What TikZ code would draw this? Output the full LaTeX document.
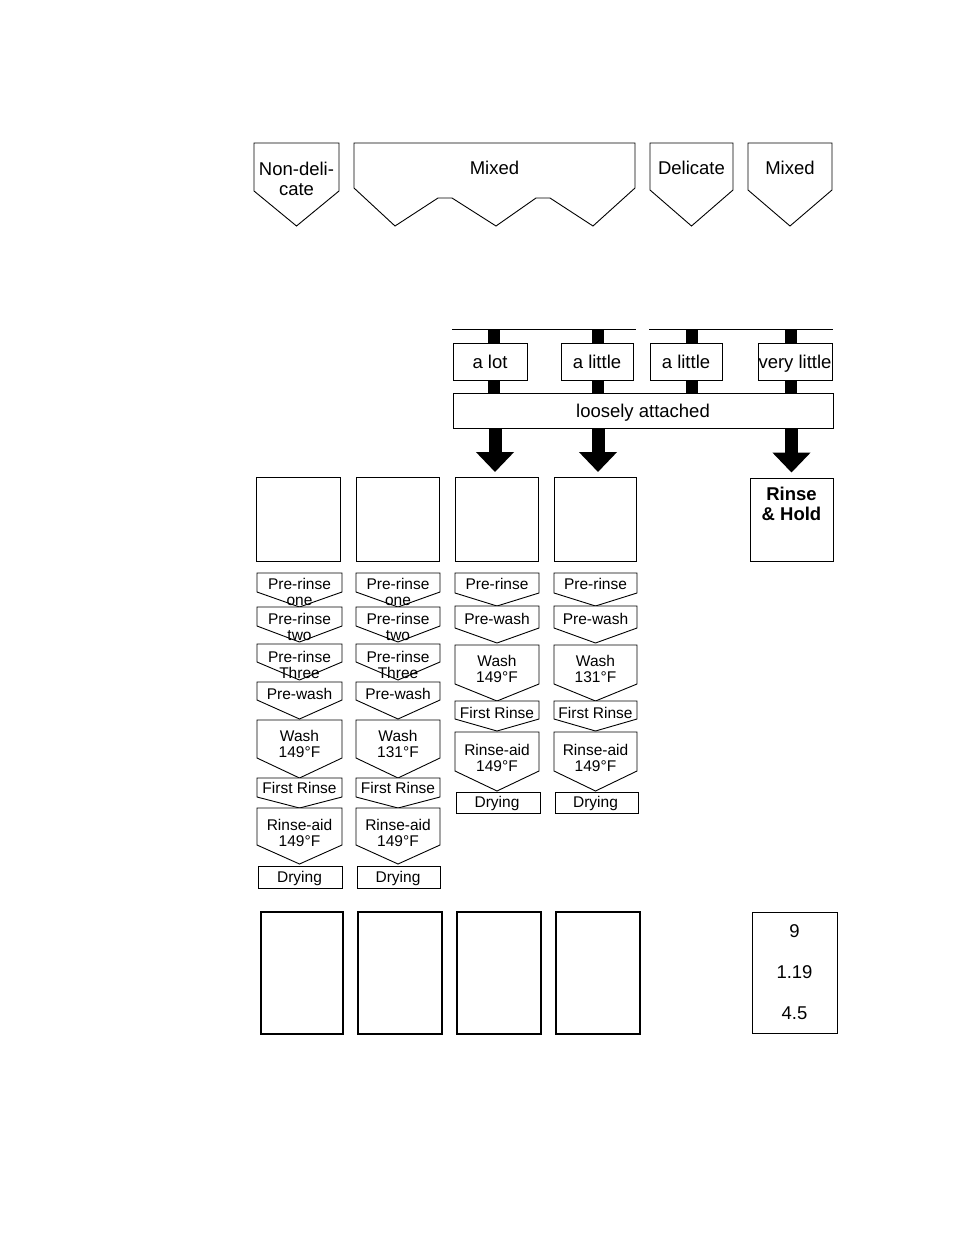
\documentclass[tikz,border=0pt]{standalone}
\usepackage{fontspec}
\setmainfont{Liberation Sans}
\usetikzlibrary{arrows.meta,fit}
\newcommand\pent[6]{% name, x1, x2, ytop, yside, ypoint
  \draw[ln, fill=white] (#2,#4) -- (#3,#4) -- (#3,#5) -- ({(#2+#3)/2},#6) -- (#2,#5) -- cycle;
  \coordinate (#1) at ({(#2+#3)/2},#4);}
\newcommand\colA[4]{% prefix, x1, x2, wash temp
  \pgfmathsetmacro\cx{(#2+#3)/2}
  \pent{#1a}{#2}{#3}{573}{592}{607}
  \pent{#1b}{#2}{#3}{607}{626}{642}
  \pent{#1c}{#2}{#3}{644}{662}{680}
  \pent{#1d}{#2}{#3}{682}{700}{719}
  \pent{#1e}{#2}{#3}{720}{758}{778}
  \pent{#1f}{#2}{#3}{778}{797}{808}
  \pent{#1g}{#2}{#3}{808}{845}{864}
  \node[ln, fit={(#2+1,866) (#3,888)}, inner sep=0pt] (#1h) {};
  \node[sm] (#1ta) at (\cx,584) {Pre-rinse};
  \node[sm] at (\cx,600) {one};
  \node[sm] (#1tb) at (\cx,619) {Pre-rinse};
  \node[sm] at (\cx,635) {two};
  \node[sm] (#1tc) at (\cx,657) {Pre-rinse};
  \node[sm] at (\cx,673) {Three};
  \node[sm] (#1td) at (\cx,694) {Pre-wash};
  \node[sm] (#1te) at (\cx,736) {Wash};
  \node[sm] at (\cx,752) {#4};
  \node[sm] (#1tf) at (\cx,788) {First Rinse};
  \node[sm] (#1tg) at (\cx,825) {Rinse-aid};
  \node[sm] at (\cx,841) {149°F};
  \node[sm] (#1th) at (\cx,877) {Drying};}
\newcommand\colB[4]{% prefix, x1, x2, wash temp
  \pgfmathsetmacro\cx{(#2+#3)/2}
  \pent{#1a}{#2}{#3}{573}{593}{606}
  \pent{#1b}{#2}{#3}{606}{628}{643}
  \pent{#1c}{#2}{#3}{645}{684}{701}
  \pent{#1d}{#2}{#3}{701}{719}{731}
  \pent{#1e}{#2}{#3}{732}{771}{791}
  \node[ln, fit={(#2+1,792) (#3+1,813)}, inner sep=0pt] (#1f) {};
  \node[sm] (#1ta) at (\cx,584) {Pre-rinse};
  \node[sm] (#1tb) at (\cx,619) {Pre-wash};
  \node[sm] (#1tc) at (\cx,661) {Wash};
  \node[sm] at (\cx,677) {#4};
  \node[sm] (#1td) at (\cx,713) {First Rinse};
  \node[sm] (#1te) at (\cx,750) {Rinse-aid};
  \node[sm] at (\cx,766) {149°F};
  \node[sm] (#1tf) at (\cx,802) {Drying};}
\begin{document}
\begin{tikzpicture}[x=1pt,y=-1pt,
  ln/.style={draw=black, line width=0.9pt},
  thick box/.style={draw=black, line width=1.4pt, inner sep=0pt},
  big/.style={font=\fontsize{18.5}{20}\selectfont, inner sep=0pt, text height=13.2pt, text depth=0pt},
  bigb/.style={font=\bfseries\fontsize{18.5}{20}\selectfont, inner sep=0pt, text height=13.2pt, text depth=0pt},
  sm/.style={font=\fontsize{15.5}{16}\selectfont, inner sep=0pt, text height=11pt, text depth=0pt},
  bar/.style={line width=12pt, draw=black},
  bigarrow/.style={line width=13pt, draw=black, -{Triangle[width=37pt,length=20pt]}},
  whitebox/.style={ln, fill=white, inner sep=0pt},
]
\useasboundingbox (0,0) rectangle (954,1235);
\fill[white] (0,0) rectangle (954,1235);

% top row
\draw[ln] (254,143) -- (339,143) -- (339,191) -- (296.5,226) -- (254,191) -- cycle;
\node[big] (nd) at (296.5,169) {Non-deli-};
\node[big] (nd2) at (296.5,189) {cate};
\draw[ln] (354,143) -- (635,143) -- (635,188) -- (593,226) -- (550,198) -- (536,198) -- (496,226)
  -- (452,198) -- (438,198) -- (395,226) -- (354,188) -- cycle;
\node[big] (mx) at (494.5,168) {Mixed};
\draw[ln] (650,143) -- (733,143) -- (733,190) -- (691.5,226) -- (650,190) -- cycle;
\node[big] (dl) at (691.5,168) {Delicate};
\draw[ln] (748,143) -- (832,143) -- (832,190) -- (790,226) -- (748,190) -- cycle;
\node[big] (mx2) at (790,168) {Mixed};

% soil rows
\coordinate (h1a) at (452,329); \coordinate (h1b) at (636,329);
\coordinate (h2a) at (649,329); \coordinate (h2b) at (833,329);
\draw[ln] (h1a) -- (h1b);
\draw[ln] (h2a) -- (h2b);
\node[whitebox, fit={(453,393) (833,428)}] (lo) {};
\node[big] at (lo.center) {loosely attached};
\foreach \x/\n in {493.5/s1,598/s2,692/s3,791/s4}{
  \coordinate (\n top) at (\x,329);
  \draw[bar] (\n top) -- (\n top |- lo.north);
}
\node[whitebox, fit={(453,343) (527,380)}] (al) {};
\node[big] at (al.center) {a lot};
\node[whitebox, fit={(561,343) (633,380)}] (al1) {};
\node[big] at (al1.center) {a little};
\node[whitebox, fit={(650,343) (722,380)}] (al2) {};
\node[big] at (al2.center) {a little};
\node[whitebox, fit={(758,343) (832,380)}] (vl) {};
\node[big] at (vl.center) {very little};

% middle boxes
\node[ln, inner sep=0pt, fit={(256,477) (340,561)}] (m1) {};
\node[ln, inner sep=0pt, fit={(356,477) (439,561)}] (m2) {};
\node[ln, inner sep=0pt, fit={(455,477) (538,561)}] (m3) {};
\node[ln, inner sep=0pt, fit={(554,477) (636,561)}] (m4) {};
\node[ln, inner sep=0pt, fit={(750,478) (833,561)}] (rh) {};
\node[bigb] at (791.5,494) {Rinse};
\node[bigb] at (791.5,514) {\& Hold};

\draw[bigarrow, shorten >=5pt] (lo.south -| 495,0) -- (495,477);
\draw[bigarrow, shorten >=5pt] (lo.south -| 598,0) -- (598,477);
\draw[bigarrow, shorten >=5pt] (lo.south -| rh.north) -- (rh.north);

% programme columns
\colA{c1}{257}{342}{149°F}
\colA{c2}{356}{440}{131°F}
\colB{c3}{455}{539}{149°F}
\colB{c4}{554}{637}{131°F}

% bottom boxes
\node[thick box, fit={(261,912) (343,1034)}] (b1) {};
\node[thick box, fit={(358,912) (442,1034)}] (b2) {};
\node[thick box, fit={(457,912) (541,1034)}] (b3) {};
\node[thick box, fit={(556,912) (640,1034)}] (b4) {};
\node[ln, inner sep=0pt, fit={(752,912) (837,1033)}] (b5) {};
\node[big] at (794.5,931) {9};
\node[big] at (794.5,972) {1.19};
\node[big] at (794.5,1013) {4.5};
\end{tikzpicture}
\end{document}
